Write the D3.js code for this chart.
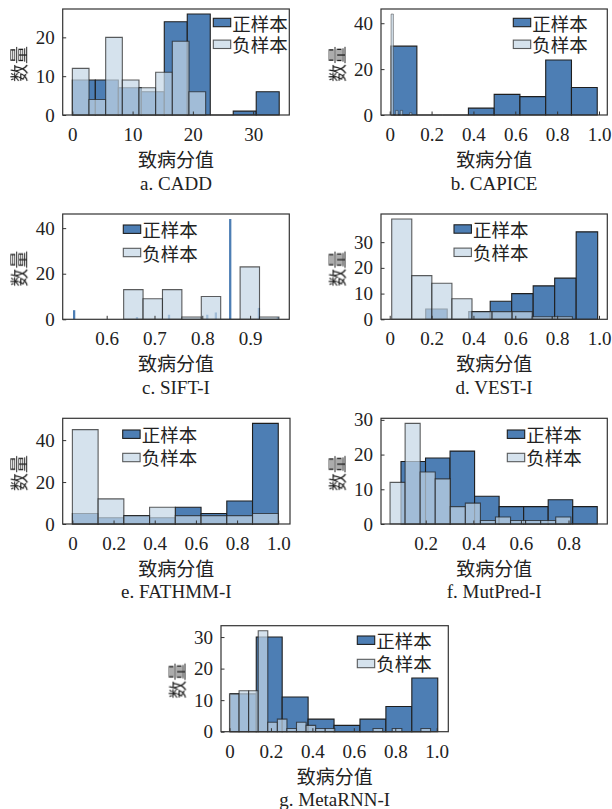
<!DOCTYPE html>
<html>
<head>
<meta charset="utf-8">
<script src="https://cdn.jsdelivr.net/npm/d3@7/dist/d3.min.js"></script>
<style>
  body { margin: 0; background: #fff; }
  svg { display: block; }
</style>
</head>
<body>
<svg id="chart" width="612" height="809">
  <defs>
    <filter id="mono" x="-10%" y="-10%" width="120%" height="120%">
      <feColorMatrix type="saturate" values="0"/>
    </filter>
  </defs>
</svg>
<script>
// ---------- data ----------
const seriesNames = ["正样本", "负样本"];
const xAxisTitle = "致病分值";
const yAxisTitle = "数量";
const panelTitles = ["a. CADD", "b. CAPICE", "c. SIFT-I", "d. VEST-I", "e. FATHMM-I", "f. MutPred-I", "g. MetaRNN-I"];

// Histogram counts; each series has its own bin start / bin width (score units)
const caddPosBins = { start: 0, width: 3.814 };
const caddPos = [9, 9, 7, 6, 24, 26, 0, 1, 6];
const caddNegBins = { start: 0, width: 2.765 };
const caddNeg = [12, 4, 20, 9, 7, 11, 19, 6];

const capicePosBins = { start: 0.0067, width: 0.1231 };
const capicePos = [30, 0, 0, 3, 9, 8, 24, 12];
const capiceNegBins = { start: 0.0066, width: 0.011 };
const capiceNeg = [44, 0, 2, 0, 2, 0, 0, 0, 1];

// SIFT-I positives fall into a few very narrow bins
const siftPosWidth = 0.0048;
const siftPosEdges = [0.5295, 0.661, 0.728, 0.808, 0.826, 0.856, 0.916, 0.9557];
const siftPos = [4, 1, 2, 2, 3, 44, 5, 1];
const siftNegBins = { start: 0.6355, width: 0.0406 };
const siftNeg = [13, 9, 13, 1, 10, 0, 23, 1];

const vestPosBins = { start: 0.172, width: 0.1027 };
const vestPos = [4, 0, 3, 7, 10, 13, 16, 34];
const vestNegBins = { start: 0.0096, width: 0.0959 };
const vestNeg = [39, 17, 14, 8, 3, 3, 3, 1, 1];

const fathmmPosBins = { start: 0, width: 0.125 };
const fathmmPos = [5, 3, 4, 3, 8, 5, 11, 48];
const fathmmNegBins = { start: 0, width: 0.125 };
const fathmmNeg = [45, 12, 4, 8, 4, 4, 4, 5];

const mutpredPosBins = { start: 0.096, width: 0.1031 };
const mutpredPos = [18, 19, 21, 8, 5, 5, 7, 5];
const mutpredNegBins = { start: 0.05, width: 0.0633 };
const mutpredNeg = [12, 29, 15, 13, 5, 6, 1, 2, 1, 1, 1, 2];

const metarnnPosBins = { start: 0.004, width: 0.12514 };
const metarnnPos = [12, 30, 11, 4, 2, 4, 8, 17];
const metarnnNegBins = { start: 0, width: 0.0462 };
const metarnnNeg = [12, 13, 13, 32, 3, 4, 1, 3, 2, 1, 1, 0, 0, 0, 0, 1, 0, 1, 0, 0, 1];

// axis ranges and ticks
const xDomains = [[-1.6, 36.0], [-0.0416, 1.0396], [0.508, 0.982], [-0.0416, 1.0396], [-0.047, 1.057], [0.012, 0.963], [-0.041, 1.056]];
const unitTicks = [0, 0.2, 0.4, 0.6, 0.8, 1.0];
const xTicks = [[0, 10, 20, 30], unitTicks, [0.6, 0.7, 0.8, 0.9], unitTicks, unitTicks, [0.2, 0.4, 0.6, 0.8], unitTicks];
const yTicks = [[0, 10, 20], [0, 20, 40], [0, 20, 40], [0, 10, 20, 30], [0, 20, 40], [0, 10, 20, 30], [0, 10, 20, 30]];

// ---------- helpers ----------
const uniformBins = (b, counts) => counts.map((n, i) => ({ x0: b.start + i * b.width, x1: b.start + (i + 1) * b.width, n }));
const edgeBins = (edges, w, counts) => counts.map((n, i) => ({ x0: edges[i], x1: edges[i] + w, n }));

const panelsData = [
  [uniformBins(caddPosBins, caddPos), uniformBins(caddNegBins, caddNeg)],
  [uniformBins(capicePosBins, capicePos), uniformBins(capiceNegBins, capiceNeg)],
  [edgeBins(siftPosEdges, siftPosWidth, siftPos), uniformBins(siftNegBins, siftNeg)],
  [uniformBins(vestPosBins, vestPos), uniformBins(vestNegBins, vestNeg)],
  [uniformBins(fathmmPosBins, fathmmPos), uniformBins(fathmmNegBins, fathmmNeg)],
  [uniformBins(mutpredPosBins, mutpredPos), uniformBins(mutpredNegBins, mutpredNeg)],
  [uniformBins(metarnnPosBins, metarnnPos), uniformBins(metarnnNegBins, metarnnNeg)]
];

// ---------- layout / style ----------
const layout = [
  { left: 62.7, top: 9,     w: 226.6, h: 106,   leg: [150.6, 13.5, 21.8] },
  { left: 381,  top: 9,     w: 226.3, h: 106,   leg: [132.3, 13.5, 21.8] },
  { left: 62.7, top: 214,   w: 226.6, h: 105.3, leg: [60.6, 15.2, 23.3] },
  { left: 381,  top: 214,   w: 226.3, h: 105.3, leg: [73, 15, 23.3] },
  { left: 62.7, top: 418.3, w: 227.3, h: 105.7, leg: [60, 15.9, 23.3] },
  { left: 381,  top: 418.3, w: 226.3, h: 105.7, leg: [126.3, 15.9, 23.3] },
  { left: 221,  top: 625.7, w: 227.3, h: 106,   leg: [136.3, 14.5, 23.3] }
];
const posFill = "#4d7eb4";
const negFill = "#c4d6e6";
const negAlpha = 0.71;
const edgeColor = "#1e1e1e";
const axisColor = "#333";
const textColor = "#222";
const serif = "'Liberation Serif', 'Times New Roman', serif";
const cjk = "'Noto Sans CJK SC', sans-serif";

const svg = d3.select("#chart");

const fmtTick = d => d === 0 ? "0" : (Number.isInteger(d) && d > 1 ? String(d) : d3.format(".1f")(d));

function barPath(x, y, b) {
  const x0 = x(b.x0), x1 = x(b.x1), y0 = y(0), y1 = y(b.n);
  return `M${x0},${y0}V${y1}H${x1}V${y0}Z`;
}
// very narrow bars are drawn without an outline so their fill stays visible
const barStroke = (x, b) => (x(b.x1) - x(b.x0) < 4 ? 0 : 1.1);

panelsData.forEach((series, i) => {
  const L = layout[i];
  const g = svg.append("g").attr("transform", `translate(${L.left},${L.top})`);
  const maxN = d3.max(series.flat(), d => d.n);
  const x = d3.scaleLinear().domain(xDomains[i]).range([0, L.w]);
  const y = d3.scaleLinear().domain([0, maxN * 1.05]).range([L.h, 0]);

  // positive bars (opaque), then negative bars (translucent) on top
  g.append("g").selectAll("path").data(series[0]).join("path")
    .attr("d", d => barPath(x, y, d))
    .attr("fill", posFill).attr("stroke", edgeColor).attr("stroke-width", d => barStroke(x, d));
  g.append("g").selectAll("path").data(series[1]).join("path")
    .attr("d", d => barPath(x, y, d))
    .attr("fill", negFill).attr("fill-opacity", negAlpha)
    .attr("stroke", edgeColor).attr("stroke-opacity", negAlpha).attr("stroke-width", d => barStroke(x, d) || 0.6);

  // axes with inward ticks
  const xAxis = d3.axisBottom(x).tickValues(xTicks[i]).tickFormat(fmtTick).tickSizeInner(-3.5).tickSizeOuter(0).tickPadding(8);
  const yAxis = d3.axisLeft(y).tickValues(yTicks[i]).tickFormat(d3.format("d")).tickSizeInner(-3.5).tickSizeOuter(0).tickPadding(8);
  const gx = g.append("g").attr("transform", `translate(0,${L.h})`).call(xAxis);
  const gy = g.append("g").call(yAxis);
  [gx, gy].forEach(a => {
    a.select(".domain").remove();
    a.selectAll(".tick line").attr("stroke", axisColor).attr("stroke-width", 1);
    a.selectAll(".tick text").attr("fill", textColor).style("font-family", serif).style("font-size", "19px");
  });
  gx.selectAll(".tick text").attr("dy", "0.95em");

  // frame
  g.append("rect").attr("x", 0).attr("y", 0).attr("width", L.w).attr("height", L.h)
    .attr("fill", "none").attr("stroke", axisColor).attr("stroke-width", 1.2);

  // legend
  const [lx, ly, lgap] = L.leg;
  seriesNames.forEach((name, k) => {
    const cy = ly + k * lgap;
    g.append("rect").attr("x", lx).attr("y", cy - 4.2).attr("width", 17.4).attr("height", 8.4)
      .attr("fill", k === 0 ? posFill : negFill).attr("fill-opacity", k === 0 ? 1 : negAlpha)
      .attr("stroke", edgeColor).attr("stroke-opacity", k === 0 ? 1 : negAlpha).attr("stroke-width", 1.1);
    g.append("text").attr("x", lx + 19).attr("y", cy).attr("dominant-baseline", "central")
      .attr("fill", textColor).style("font-family", cjk).style("font-size", "18.5px").text(name);
  });

  // axis titles and panel caption
  g.append("text").attr("transform", `translate(${-44.5},${L.h / 2 + 2}) rotate(-90)`)
    .attr("text-anchor", "middle").attr("dominant-baseline", "central")
    .attr("filter", "url(#mono)")
    .attr("fill", textColor).style("font-family", cjk).style("font-size", "18px").text(yAxisTitle);
  g.append("text").attr("x", L.w / 2).attr("y", L.h + 43.5)
    .attr("text-anchor", "middle").attr("dominant-baseline", "central")
    .attr("fill", textColor).style("font-family", cjk).style("font-size", "19px").text(xAxisTitle);
  g.append("text").attr("x", L.w / 2).attr("y", L.h + 68)
    .attr("text-anchor", "middle").attr("dominant-baseline", "central")
    .attr("fill", textColor).style("font-family", serif).style("font-size", "19px").text(panelTitles[i]);
});
</script>
</body>
</html>
